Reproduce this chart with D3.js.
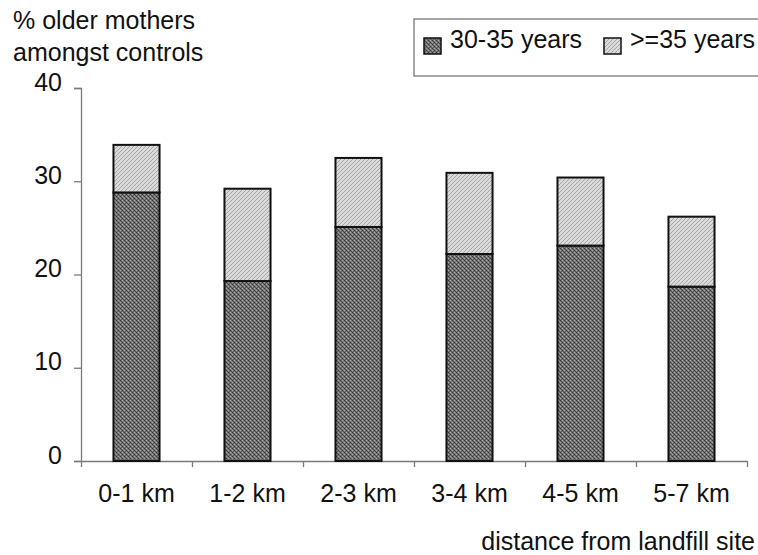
<!DOCTYPE html>
<html>
<head>
<meta charset="utf-8">
<script src="https://cdn.jsdelivr.net/npm/d3@7/dist/d3.min.js"></script>
<style>
  html, body { margin: 0; padding: 0; background: #fff; }
  svg { display: block; font-family: "Liberation Sans", Arial, sans-serif; }
</style>
</head>
<body>
<svg id="chart" width="758" height="555"></svg>
<script>
// ---- data ----
const categories = ["0-1 km", "1-2 km", "2-3 km", "3-4 km", "4-5 km", "5-7 km"];
const seriesNames = ["30-35 years", ">=35 years"];
const age30to35 = [28.8, 19.3, 25.1, 22.2, 23.1, 18.7];
const age35plus = [5.1, 9.9, 7.4, 8.7, 7.3, 7.5];
const yTicks = [0, 10, 20, 30, 40];
const yTitle = ["% older mothers", "amongst controls"];
const xTitle = "distance from landfill site";

// ---- setup ----
const svg = d3.select("#chart");
const FS = 25;

const defs = svg.append("defs");
// dark dotted texture
const pd = defs.append("pattern").attr("id", "pDark").attr("patternUnits", "userSpaceOnUse")
  .attr("width", 4).attr("height", 4);
pd.append("rect").attr("width", 4).attr("height", 4).attr("fill", "#747474");
[[0,0,"#383838"],[2,2,"#383838"],[2,0,"#a4a4a4"],[0,2,"#a4a4a4"],[1,1,"#4c4c4c"],[3,3,"#555555"],[3,1,"#8c8c8c"],[1,3,"#626262"]]
  .forEach(([px, py, c]) => pd.append("rect").attr("x", px).attr("y", py)
    .attr("width", 1).attr("height", 1).attr("fill", c));
// light hatched texture
const pl = defs.append("pattern").attr("id", "pLight").attr("patternUnits", "userSpaceOnUse")
  .attr("width", 4).attr("height", 4);
pl.append("rect").attr("width", 4).attr("height", 4).attr("fill", "#dadada");
pl.append("path").attr("d", "M0,4 L4,0 M-1,1 L1,-1 M3,5 L5,3")
  .attr("stroke", "#a6a6a6").attr("stroke-width", 1);

const fills = ["url(#pDark)", "url(#pLight)"];

// ---- scales ----
const y = d3.scaleLinear().domain([0, 40]).range([461, 88]);
const xBand = d3.scaleBand().domain(categories).range([81, 747]).paddingInner(0);
const xBars = d3.scaleBand().domain(categories).range([81, 747])
  .paddingInner(0.585).paddingOuter(0.2925);
const xEdges = d3.scaleLinear().domain([0, categories.length]).range([81, 747]);

// ---- stacked data ----
const rows = categories.map((c, i) => ({ cat: c, a: age30to35[i], b: age35plus[i] }));
const stack = d3.stack().keys(["a", "b"])(rows);

// ---- axes ----
const yAxis = d3.axisLeft(y).tickValues(yTicks).tickSize(7).tickPadding(12);
const gy = svg.append("g").attr("transform", "translate(81,0)").call(yAxis);
gy.select(".domain").attr("stroke", "#7a7a7a").attr("stroke-width", 1.3);
gy.selectAll(".tick line").attr("stroke", "#7a7a7a").attr("stroke-width", 1.3);
gy.selectAll(".tick text").attr("font-size", FS).attr("fill", "#111")
  .attr("font-family", "Liberation Sans, Arial, sans-serif")
  .attr("x", -19).attr("dy", "0.08em");

const xEdgeAxis = d3.axisBottom(xEdges).tickValues(d3.range(categories.length + 1))
  .tickSize(6).tickFormat("").tickSizeOuter(0);
const gx = svg.append("g").attr("transform", "translate(0,461)").call(xEdgeAxis);
gx.select(".domain").attr("stroke", "#7a7a7a").attr("stroke-width", 1.3);
gx.selectAll(".tick line").attr("stroke", "#7a7a7a").attr("stroke-width", 1.3);

const xLabelAxis = d3.axisBottom(xBand).tickSize(0).tickPadding(0);
const gxl = svg.append("g").attr("transform", "translate(0,461)").call(xLabelAxis);
gxl.select(".domain").remove();
gxl.selectAll(".tick text").attr("font-size", FS).attr("fill", "#111")
  .attr("font-family", "Liberation Sans, Arial, sans-serif")
  .attr("y", 41).attr("dy", 0);

// ---- bars ----
svg.append("g").selectAll("g").data(stack).join("g")
  .attr("fill", (d, i) => fills[i])
  .selectAll("rect").data(d => d).join("rect")
  .attr("x", d => xBars(d.data.cat))
  .attr("width", xBars.bandwidth())
  .attr("y", d => y(d[1]))
  .attr("height", d => y(d[0]) - y(d[1]))
  .attr("stroke", "#111").attr("stroke-width", 2);

// ---- titles ----
svg.append("g").selectAll("text").data(yTitle).join("text")
  .attr("x", 13).attr("y", (d, i) => 29 + i * 32)
  .attr("font-size", FS).attr("fill", "#111").text(d => d);

svg.append("text").attr("x", 755).attr("y", 550).attr("text-anchor", "end")
  .attr("font-size", FS).attr("fill", "#111").text(xTitle);

// ---- legend ----
const lg = svg.append("g");
lg.append("rect").attr("x", 414).attr("y", 19).attr("width", 360).attr("height", 57)
  .attr("fill", "#fff").attr("stroke", "#777").attr("stroke-width", 1.3);
const legendX = [424, 604];
seriesNames.forEach((name, i) => {
  lg.append("rect").attr("x", legendX[i]).attr("y", 38).attr("width", 17).attr("height", 16)
    .attr("fill", fills[i]).attr("stroke", "#111").attr("stroke-width", 1.5);
  lg.append("text").attr("x", legendX[i] + 26).attr("y", 48)
    .attr("font-size", FS).attr("fill", "#111").text(name);
});
</script>
</body>
</html>
